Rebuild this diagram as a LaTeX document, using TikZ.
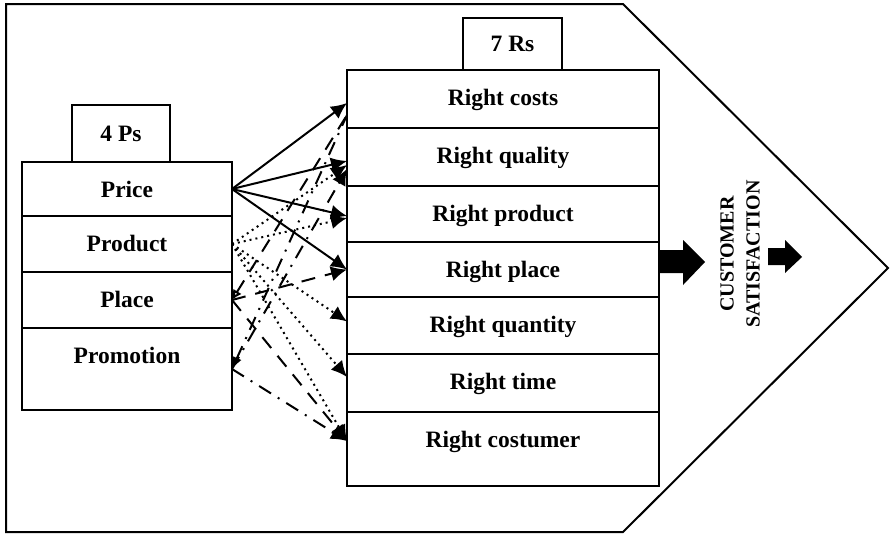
\documentclass[tikz,border=0pt]{standalone}
\usepackage{fontspec}
\setmainfont{Liberation Serif}
\usetikzlibrary{positioning,arrows.meta}

\tikzset{
  rowbox/.style={draw, line width=0.6pt, inner sep=0pt, outer sep=0pt, text height=17.5pt},
  prow/.style={rowbox, minimum width=105pt},
  rrow/.style={rowbox, minimum width=156pt},
  titlebox/.style={draw, line width=0.6pt, inner sep=0pt, outer sep=0pt},
  link/.style={line width=1pt, -{Latex[length=8pt,width=7.5pt]}},
  priceline/.style={link},
  productline/.style={link, dash pattern=on 1pt off 2pt},
  placeline/.style={link, dash pattern=on 7pt off 5pt},
  promoline/.style={link, dash pattern=on 7pt off 4pt on 1pt off 4pt},
}

\begin{document}
\begin{tikzpicture}[x=0.5pt,y=-0.5pt,font=\fontsize{11.75}{14}\selectfont\bfseries]
  \useasboundingbox (0,0) rectangle (892,536);

  % outer frame
  \draw[line width=1pt] (6,4) -- (623,4) -- (888,268) -- (623,532) -- (6,532) -- cycle;

  % 4 Ps
  \node[prow, text depth=9.5pt, anchor=north west] (price) at (22,162) {Price};
  \node[prow, text depth=10.5pt, below=0pt of price] (product) {Product};
  \node[prow, text depth=10.5pt, below=0pt of product] (place) {Place};
  \node[prow, text depth=23.5pt, below=0pt of place] (promotion) {Promotion};
  \node[titlebox, minimum width=49pt, minimum height=28.5pt, above=0pt of price, xshift=-3pt] (fourps) {4 Ps};

  % 7 Rs
  \node[rrow, text depth=11.5pt, anchor=north west] (rcosts) at (347,70) {Right costs};
  \node[rrow, text depth=11.5pt, below=0pt of rcosts] (rquality) {Right quality};
  \node[rrow, text depth=10.5pt, below=0pt of rquality] (rproduct) {Right product};
  \node[rrow, text depth=10pt, below=0pt of rproduct] (rplace) {Right place};
  \node[rrow, text depth=11pt, below=0pt of rplace] (rquantity) {Right quantity};
  \node[rrow, text depth=11.5pt, below=0pt of rquantity] (rtime) {Right time};
  \node[rrow, text depth=19.5pt, below=0pt of rtime] (rcustomer) {Right costumer};
  \node[titlebox, minimum width=49.5pt, minimum height=26pt, above=0pt of rcosts, xshift=4.75pt] (sevenrs) {7 Rs};

  % links
  \draw[priceline] (price.east) -- ([yshift=-2pt]rcosts.west);
  \draw[priceline] (price.east) -- ([yshift=-2pt]rquality.west);
  \draw[priceline] (price.east) -- ([yshift=-1pt]rproduct.west);
  \draw[priceline] (price.east) -- (rplace.west);

  \draw[productline] (product.east) -- ([yshift=-4pt]rquality.west);
  \draw[productline] (product.east) -- ([yshift=-2pt]rproduct.west);
  \draw[productline] (product.east) -- ([yshift=2pt]rquantity.west);
  \draw[productline] (product.east) -- ([yshift=3pt]rtime.west);
  \draw[productline] (product.east) -- ([yshift=4pt]rcustomer.west);

  \draw[placeline, {Latex[open,length=5pt,width=5pt]}-] (place.east) -- ([yshift=-8pt]rcosts.west);
  \draw[placeline] (place.east) -- (rplace.west);
  \draw[placeline] (place.east) -- ([yshift=4pt]rcustomer.west);

  \draw[promoline, {Latex[length=6pt,width=5pt]}-] (promotion.east) -- ([yshift=-8pt]rcosts.west);
  \draw[promoline] (promotion.east) -- ([yshift=-6pt]rquality.west);
  \draw[promoline] (promotion.east) -- ([yshift=4pt]rcustomer.west);

  % block arrows
  \fill (659,250) -- (683,250) -- (683,240) -- (705,262) -- (683,285) -- (683,273) -- (659,273) -- cycle;
  \fill (768,248) -- (785,248) -- (785,240) -- (802,257) -- (785,273) -- (785,265) -- (768,265) -- cycle;

  \node[rotate=90, align=center, font=\fontsize{10}{13}\selectfont\bfseries] (satisfaction) at (740,254) {CUSTOMER\\SATISFACTION};
\end{tikzpicture}
\end{document}
